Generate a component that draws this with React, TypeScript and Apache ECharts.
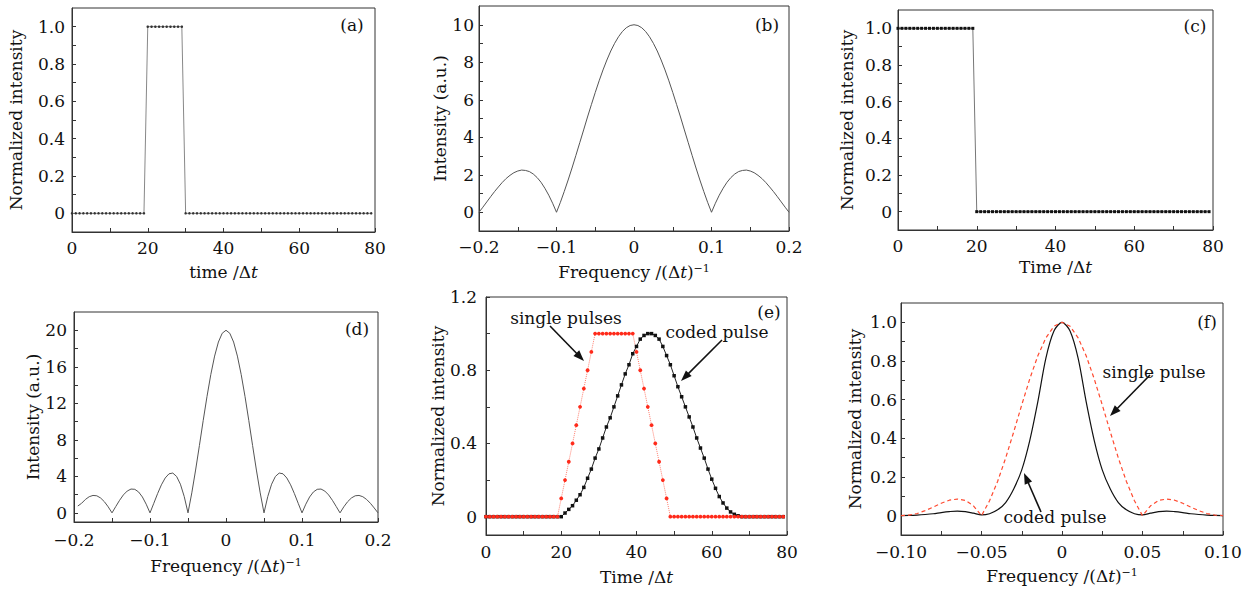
import React, { useEffect, useRef } from "react";
import * as echarts from "echarts";

// ---------------- data ----------------
const timeSteps = [
  0, 1, 2, 3, 4, 5, 6, 7, 8, 9, 10, 11, 12, 13, 14, 15, 16, 17, 18, 19,
  20, 21, 22, 23, 24, 25, 26, 27, 28, 29, 30, 31, 32, 33, 34, 35, 36, 37, 38, 39,
  40, 41, 42, 43, 44, 45, 46, 47, 48, 49, 50, 51, 52, 53, 54, 55, 56, 57, 58, 59,
  60, 61, 62, 63, 64, 65, 66, 67, 68, 69, 70, 71, 72, 73, 74, 75, 76, 77, 78, 79,
];

const pulseA = [
  0, 0, 0, 0, 0, 0, 0, 0, 0, 0, 0, 0, 0, 0, 0, 0, 0, 0, 0, 0,
  1, 1, 1, 1, 1, 1, 1, 1, 1, 1, 0, 0, 0, 0, 0, 0, 0, 0, 0, 0,
  0, 0, 0, 0, 0, 0, 0, 0, 0, 0, 0, 0, 0, 0, 0, 0, 0, 0, 0, 0,
  0, 0, 0, 0, 0, 0, 0, 0, 0, 0, 0, 0, 0, 0, 0, 0, 0, 0, 0, 0,
];

const pulseC = [
  1, 1, 1, 1, 1, 1, 1, 1, 1, 1, 1, 1, 1, 1, 1, 1, 1, 1, 1, 1,
  0, 0, 0, 0, 0, 0, 0, 0, 0, 0, 0, 0, 0, 0, 0, 0, 0, 0, 0, 0,
  0, 0, 0, 0, 0, 0, 0, 0, 0, 0, 0, 0, 0, 0, 0, 0, 0, 0, 0, 0,
  0, 0, 0, 0, 0, 0, 0, 0, 0, 0, 0, 0, 0, 0, 0, 0, 0, 0, 0, 0,
];

const singleE = [
  0, 0, 0, 0, 0, 0, 0, 0, 0, 0, 0, 0, 0, 0, 0, 0, 0, 0, 0, 0,
  0.1, 0.2, 0.3, 0.4, 0.5, 0.6, 0.7, 0.8, 0.9, 1, 1, 1, 1, 1, 1, 1, 1, 1, 1, 1,
  0.9, 0.8, 0.7, 0.6, 0.5, 0.4, 0.3, 0.2, 0.1, 0, 0, 0, 0, 0, 0, 0, 0, 0, 0, 0,
  0, 0, 0, 0, 0, 0, 0, 0, 0, 0, 0, 0, 0, 0, 0, 0, 0, 0, 0, 0,
];

const codedE = [
  0, 0, 0, 0, 0, 0, 0, 0, 0, 0, 0, 0, 0, 0, 0, 0, 0, 0, 0, 0,
  0, 0.02, 0.04, 0.06, 0.09, 0.12, 0.16, 0.21, 0.26, 0.32,
  0.37, 0.43, 0.49, 0.54, 0.6, 0.66, 0.72, 0.78, 0.83, 0.89,
  0.93, 0.97, 0.99, 1.0, 1.0, 0.99, 0.97, 0.93, 0.88, 0.83,
  0.77, 0.71, 0.655, 0.6, 0.545, 0.49, 0.43, 0.375, 0.32, 0.26,
  0.205, 0.155, 0.11, 0.075, 0.047, 0.026, 0.013, 0.005,
  0, 0, 0, 0, 0, 0, 0, 0, 0, 0, 0, 0,
];

const freqB = [
  -0.2, -0.195, -0.19, -0.185, -0.18, -0.175, -0.17, -0.165, -0.16, -0.155,
  -0.15, -0.145, -0.14, -0.135, -0.13, -0.125, -0.12, -0.115, -0.11, -0.105,
  -0.1, -0.095, -0.09, -0.085, -0.08, -0.075, -0.07, -0.065, -0.06, -0.055,
  -0.05, -0.045, -0.04, -0.035, -0.03, -0.025, -0.02, -0.015, -0.01, -0.005,
  0,
  0.005, 0.01, 0.015, 0.02, 0.025, 0.03, 0.035, 0.04, 0.045, 0.05,
  0.055, 0.06, 0.065, 0.07, 0.075, 0.08, 0.085, 0.09, 0.095, 0.1,
  0.105, 0.11, 0.115, 0.12, 0.125, 0.13, 0.135, 0.14, 0.145, 0.15,
  0.155, 0.16, 0.165, 0.17, 0.175, 0.18, 0.185, 0.19, 0.195, 0.2,
];
const specB = [
  0, 0.27, 0.55, 0.83, 1.1, 1.35, 1.59, 1.8, 1.97, 2.11,
  2.2, 2.25, 2.23, 2.17, 2.04, 1.85, 1.6, 1.28, 0.91, 0.48,
  0, 0.53, 1.11, 1.72, 2.36, 3.03, 3.71, 4.39, 5.08, 5.74,
  6.39, 7.01, 7.59, 8.12, 8.6, 9.01, 9.36, 9.64, 9.84, 9.96,
  10,
  9.96, 9.84, 9.64, 9.36, 9.01, 8.6, 8.12, 7.59, 7.01, 6.39,
  5.74, 5.08, 4.39, 3.71, 3.03, 2.36, 1.72, 1.11, 0.53, 0,
  0.48, 0.91, 1.28, 1.6, 1.85, 2.04, 2.17, 2.23, 2.25, 2.2,
  2.11, 1.97, 1.8, 1.59, 1.35, 1.1, 0.83, 0.55, 0.27, 0,
];

const freqD = [
  -0.195, -0.19, -0.185, -0.18, -0.175, -0.17, -0.165, -0.16, -0.155, -0.15,
  -0.145, -0.14, -0.135, -0.13, -0.125, -0.12, -0.115, -0.11, -0.105, -0.1,
  -0.095, -0.09, -0.085, -0.08, -0.075, -0.07, -0.065, -0.06, -0.055, -0.05,
  -0.045, -0.04, -0.035, -0.03, -0.025, -0.02, -0.015, -0.01, -0.005, 0,
  0.005, 0.01, 0.015, 0.02, 0.025, 0.03, 0.035, 0.04, 0.045, 0.05,
  0.055, 0.06, 0.065, 0.07, 0.075, 0.08, 0.085, 0.09, 0.095, 0.1,
  0.105, 0.11, 0.115, 0.12, 0.125, 0.13, 0.135, 0.14, 0.145, 0.15,
  0.155, 0.16, 0.165, 0.17, 0.175, 0.18, 0.185, 0.19, 0.195, 0.2,
];
const specD = [
  0.75, 1.05, 1.47, 1.77, 1.91, 1.87, 1.63, 1.22, 0.66, 0,
  0.7, 1.38, 1.97, 2.39, 2.61, 2.58, 2.29, 1.74, 0.95, 0,
  1.05, 2.11, 3.07, 3.82, 4.28, 4.36, 3.99, 3.14, 1.8, 0,
  2.19, 4.69, 7.37, 10.11, 12.75, 15.15, 17.17, 18.71, 19.67, 20,
  19.67, 18.71, 17.17, 15.15, 12.75, 10.11, 7.37, 4.69, 2.19, 0,
  1.8, 3.14, 3.99, 4.36, 4.28, 3.82, 3.07, 2.11, 1.05, 0,
  0.95, 1.74, 2.29, 2.58, 2.61, 2.39, 1.97, 1.38, 0.7, 0,
  0.66, 1.22, 1.63, 1.87, 1.91, 1.77, 1.47, 1.05, 0.54, 0,
];

const freqF = [
  -0.1, -0.095, -0.09, -0.085, -0.08, -0.075, -0.07, -0.065, -0.06, -0.055,
  -0.05, -0.045, -0.04, -0.035, -0.03, -0.025, -0.02, -0.015, -0.01, -0.005,
  0,
  0.005, 0.01, 0.015, 0.02, 0.025, 0.03, 0.035, 0.04, 0.045, 0.05,
  0.055, 0.06, 0.065, 0.07, 0.075, 0.08, 0.085, 0.09, 0.095, 0.1,
];
const singleF = [
  0, 0.003, 0.011, 0.026, 0.044, 0.064, 0.08, 0.086, 0.079, 0.051,
  0, 0.077, 0.177, 0.298, 0.433, 0.573, 0.708, 0.827, 0.92, 0.98,
  1,
  0.98, 0.92, 0.827, 0.708, 0.573, 0.433, 0.298, 0.177, 0.077, 0,
  0.051, 0.079, 0.086, 0.08, 0.064, 0.044, 0.026, 0.011, 0.003, 0,
];
const codedF = [
  0, 0.001, 0.003, 0.006, 0.01, 0.016, 0.021, 0.024, 0.021, 0.013,
  0.004, 0.01, 0.03, 0.068, 0.138, 0.237, 0.39, 0.59, 0.815, 0.955,
  1,
  0.955, 0.815, 0.59, 0.39, 0.237, 0.138, 0.068, 0.03, 0.01, 0.004,
  0.013, 0.021, 0.024, 0.021, 0.016, 0.01, 0.006, 0.003, 0.001, 0,
];

// tick labels
const timeLabels = [0, 20, 40, 60, 80];
const timeMinor = [10, 30, 50, 70];
const normLabels = [0, 0.2, 0.4, 0.6, 0.8, 1.0];
const normMinor = [0.1, 0.3, 0.5, 0.7, 0.9];
const specBLabels = [0, 2, 4, 6, 8, 10];
const specBMinor = [1, 3, 5, 7, 9];
const specDLabels = [0, 4, 8, 12, 16, 20];
const specDMinor = [2, 6, 10, 14, 18];
const normELabels = [0, 0.4, 0.8, 1.2];
const normEMinor = [0.2, 0.6, 1.0];
const freqWideLabels = [-0.2, -0.1, 0, 0.1, 0.2];
const freqWideMinor = [-0.15, -0.05, 0.05, 0.15];
const freqNarrowLabels = [-0.1, -0.05, 0, 0.05, 0.1];
const freqNarrowMinor = [-0.075, -0.025, 0.025, 0.075];

// ---------------- styling ----------------
const FONT = '"DejaVu Serif", serif';
const TXT = "#111";
const AX = "#333";

const zip = (xs: number[], ys: number[]) => xs.map((x, i) => [x, ys[i]]);
const fmt = (dec: number) => (v: number) =>
  v === 0 ? "0" : (v < 0 ? "\u2212" : "") + Math.abs(v).toFixed(dec);

const richStyle = {
  r: { fontFamily: FONT, fontSize: 17, color: TXT },
  i: { fontFamily: FONT, fontSize: 17, color: TXT, fontStyle: "italic" },
  s: { fontFamily: FONT, fontSize: 11, color: TXT, verticalAlign: "top" },
};

function axis(
  kind: "x" | "y",
  gridIndex: number,
  min: number,
  max: number,
  labels: number[],
  minor: number[],
  dec: number,
  name: string,
  nameGap: number,
  margin: number
) {
  return {
    type: "value",
    gridIndex,
    min,
    max,
    name,
    nameLocation: "middle",
    nameGap,
    nameTextStyle: { fontFamily: FONT, fontSize: 17, color: TXT, rich: richStyle },
    axisLine: { show: true, onZero: false, lineStyle: { color: AX, width: 1 } },
    axisTick: {
      show: true,
      inside: true,
      length: 4,
      customValues: [...labels, ...minor],
      lineStyle: { color: AX, width: 1 },
    },
    axisLabel: {
      customValues: labels,
      formatter: fmt(dec),
      margin,
      color: TXT,
      fontFamily: FONT,
      fontSize: 17,
    },
    splitLine: { show: false },
    ...(kind === "x" ? { position: "bottom" } : { position: "left" }),
  };
}

const grids = [
  { left: 72, top: 8, width: 303, height: 224 },
  { left: 479, top: 6, width: 310, height: 225 },
  { left: 898, top: 10, width: 315, height: 220 },
  { left: 74, top: 312, width: 304, height: 210 },
  { left: 486, top: 297, width: 301, height: 238 },
  { left: 901, top: 303, width: 322, height: 232 },
];

function arrow(x1: number, y1: number, x2: number, y2: number) {
  const dx = x2 - x1;
  const dy = y2 - y1;
  const len = Math.sqrt(dx * dx + dy * dy);
  const ux = dx / len;
  const uy = dy / len;
  const hl = 11;
  const hw = 4;
  const bx = x2 - ux * hl;
  const by = y2 - uy * hl;
  return [
    {
      type: "line",
      shape: { x1, y1, x2: bx + ux * 2, y2: by + uy * 2 },
      style: { stroke: "#111", lineWidth: 1.6 },
      silent: true,
    },
    {
      type: "polygon",
      shape: {
        points: [
          [x2, y2],
          [bx - uy * hw, by + ux * hw],
          [bx + uy * hw, by - ux * hw],
        ],
      },
      style: { fill: "#111" },
      silent: true,
    },
  ];
}

const label = (text: string, x: number, y: number) => ({
  type: "text",
  silent: true,
  style: {
    text,
    x,
    y,
    align: "center",
    verticalAlign: "middle",
    fontFamily: FONT,
    fontSize: 17,
    lineHeight: 17,
    fill: TXT,
  },
});

export default function App() {
  const ref = useRef<HTMLDivElement>(null);

  useEffect(() => {
    if (!ref.current) return;
    const chart = echarts.init(ref.current, null, { renderer: "svg" });
    const timeName = "{r|time /\u0394}{i|t}";
    const TimeName = "{r|Time /\u0394}{i|t}";
    const freqName = "{r|Frequency /(\u0394}{i|t}{r|)}{s|\u22121}";

    const option = {
      animation: false,
      backgroundColor: "#ffffff",
      grid: grids.map((g) => ({
        ...g,
        show: true,
        borderColor: AX,
        borderWidth: 1,
        backgroundColor: "rgba(0,0,0,0)",
        containLabel: false,
      })),
      xAxis: [
        axis("x", 0, 0, 80, timeLabels, timeMinor, 0, timeName, 31, 7),
        axis("x", 1, -0.2, 0.2, freqWideLabels, freqWideMinor, 1, freqName, 32, 7),
        axis("x", 2, 0, 80, timeLabels, timeMinor, 0, TimeName, 28, 7),
        axis("x", 3, -0.2, 0.2, freqWideLabels, freqWideMinor, 1, freqName, 35, 9),
        axis("x", 4, 0, 80, timeLabels, timeMinor, 0, TimeName, 33, 8),
        axis("x", 5, -0.1, 0.1, freqNarrowLabels, freqNarrowMinor, 2, freqName, 32, 8),
      ],
      yAxis: [
        axis("y", 0, -0.1, 1.1, normLabels, normMinor, 1, "Normalized intensity", 48, 7),
        axis("y", 1, -1, 11, specBLabels, specBMinor, 0, "Intensity (a.u.)", 29, 5),
        axis("y", 2, -0.1, 1.1, normLabels, normMinor, 1, "Normalized intensity", 43, 6),
        axis("y", 3, -1, 22, specDLabels, specDMinor, 0, "Intensity (a.u.)", 33, 7),
        axis("y", 4, -0.1, 1.2, normELabels, normEMinor, 1, "Normalized intensity", 40, 9),
        axis("y", 5, -0.1, 1.1, normLabels, normMinor, 1, "Normalized intensity", 38, 4),
      ],
      series: [
        {
          type: "line",
          xAxisIndex: 0,
          yAxisIndex: 0,
          data: zip(timeSteps, pulseA),
          symbol: "circle",
          symbolSize: 2.5,
          showAllSymbol: true,
          lineStyle: { color: "#888", width: 1 },
          itemStyle: { color: "#333" },
          silent: true,
        },
        {
          type: "line",
          xAxisIndex: 1,
          yAxisIndex: 1,
          data: zip(freqB, specB),
          showSymbol: false,
          lineStyle: { color: "#555", width: 1 },
          silent: true,
        },
        {
          type: "line",
          xAxisIndex: 2,
          yAxisIndex: 2,
          data: zip(timeSteps, pulseC),
          symbol: "rect",
          symbolSize: 3,
          showAllSymbol: true,
          lineStyle: { color: "#777", width: 1 },
          itemStyle: { color: "#111" },
          silent: true,
        },
        {
          type: "line",
          xAxisIndex: 3,
          yAxisIndex: 3,
          data: zip(freqD, specD),
          showSymbol: false,
          lineStyle: { color: "#555", width: 1 },
          silent: true,
        },
        {
          type: "line",
          xAxisIndex: 4,
          yAxisIndex: 4,
          data: zip(timeSteps, codedE),
          symbol: "rect",
          symbolSize: 3.5,
          showAllSymbol: true,
          lineStyle: { color: "#222", width: 1 },
          itemStyle: { color: "#111" },
          silent: true,
        },
        {
          type: "line",
          xAxisIndex: 4,
          yAxisIndex: 4,
          data: zip(timeSteps, singleE),
          symbol: "circle",
          symbolSize: 3.8,
          showAllSymbol: true,
          lineStyle: { color: "#ff7f70", width: 1, type: "dotted" },
          itemStyle: { color: "#ff2a1a" },
          silent: true,
        },
        {
          type: "line",
          xAxisIndex: 5,
          yAxisIndex: 5,
          data: zip(freqF, codedF),
          showSymbol: false,
          smooth: 0.3,
          lineStyle: { color: "#111", width: 1.2 },
          silent: true,
        },
        {
          type: "line",
          xAxisIndex: 5,
          yAxisIndex: 5,
          data: zip(freqF, singleF),
          showSymbol: false,
          lineStyle: { color: "#ff4a30", width: 1.2, type: [4, 3] },
          silent: true,
        },
      ],
      graphic: [
        label("(a)", 352, 25),
        label("(b)", 767, 25),
        label("(c)", 1195, 26),
        label("(d)", 357, 329),
        label("(e)", 769, 312),
        label("(f)", 1207, 322),
        label("single pulses", 566, 318),
        label("coded pulse", 717, 332),
        label("single pulse", 1154, 372),
        label("coded pulse", 1055, 517),
        ...arrow(550, 326, 584, 361),
        ...arrow(722, 340, 681, 381),
        ...arrow(1150, 375, 1110, 416),
        ...arrow(1041, 512, 1024, 473),
      ],
    };

    chart.setOption(option as any);
    return () => chart.dispose();
  }, []);

  return (
    <div
      ref={ref}
      style={{
        position: "absolute",
        left: 0,
        top: 0,
        width: 1258,
        height: 590,
        background: "#fff",
      }}
    />
  );
}
